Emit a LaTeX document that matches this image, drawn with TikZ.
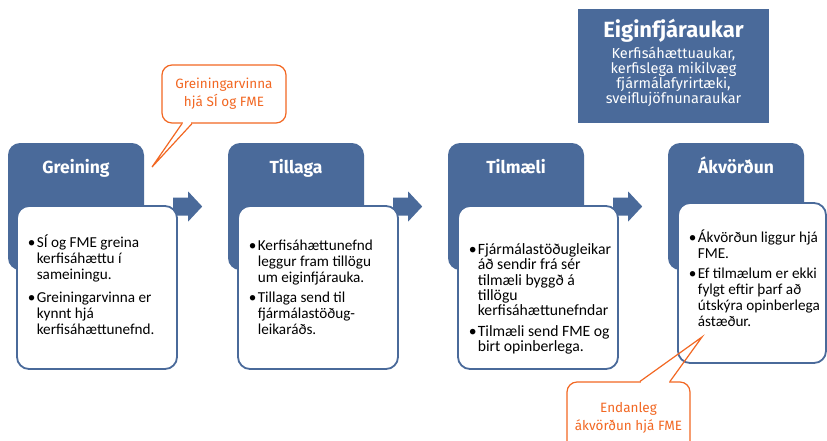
\documentclass[tikz,border=0pt]{standalone}
\usepackage{fontspec}
\setmainfont{Carlito}
\newfontfamily\headfont{Fira Sans}
\usetikzlibrary{calc}
\definecolor{stepblue}{RGB}{74,106,154}
\definecolor{noteorange}{RGB}{242,103,34}
\def\blockarrow(#1){\fill[stepblue] ($(#1.east)+(29,-9)$) -- ++(15,0) -- ++(0,-6) -- ++(14,15) -- ++(-14,15) -- ++(0,-6) -- ++(-15,0) -- cycle;}
\tikzset{
  stepbox/.style={fill=stepblue, rounded corners=12, minimum width=136, minimum height=127, inner sep=0},
  steptitle/.style={anchor=base, text=white, font=\headfont\bfseries\fontsize{17.5}{20}\selectfont},
  stepnote/.style={draw=stepblue, line width=1.8, fill=white, rounded corners=12, minimum width=160, minimum height=163, inner sep=0},
  notetext/.style={anchor=north west, inner sep=0, font=\fontsize{15.2}{16}\selectfont},
  note/.style={draw=noteorange, line width=1.2, fill=white, rounded corners=10, text=noteorange, align=center, font=\headfont\fontsize{13.5}{18}\selectfont, inner sep=0},
  noteline/.style={draw=noteorange, line width=1.2}
}

\begin{document}
\begin{tikzpicture}[x=1pt,y=-1pt]
			%%%%% START %%%%%
			\useasboundingbox (0,0) rectangle (827,440);
			\clip (0,0) rectangle (827,440);
			
			% overview box
			\node[fill=stepblue, minimum width=191, minimum height=114, inner sep=0] (aukar) at (673.5,66) {};
			\node[anchor=base, text=white, font=\headfont\bfseries\fontsize{22}{26}\selectfont] (aukartitle) at (673.5,37) {Eiginfjáraukar};
			\node[text=white, align=center, font=\headfont\fontsize{14.5}{15}\selectfont] (aukartext) at (673.5,77) {Kerfisáhættuaukar,\\kerfislega mikilvæg\\fjármálafyrirtæki,\\sveiflujöfnunaraukar};
			
			% steps
			\node[stepbox] (greining) at (76,206.5) {};
			\node[stepbox] (tillaga) at (296,206.5) {};
			\node[stepbox] (tilmaeli) at (516,206.5) {};
			\node[stepbox] (akvordun) at (736,206.5) {};
			
			\foreach \s in {greining,tillaga,tilmaeli} {\blockarrow(\s)}
			
			\node[stepnote] (greiningnote) at (97,287.5) {};
			\node[stepnote] (tillaganote) at (318,287.5) {};
			\node[stepnote] (tilmaelinote) at (538,287.5) {};
			\node[stepnote, minimum width=148, minimum height=160] (akvordunnote) at (752,283) {};
			
			\node[notetext] (greiningtext) at ($(greiningnote.north west)+(11.5,29.8)$) {\begin{tabular}{@{}p{9pt}@{}l@{}}
				\textbullet & SÍ og FME greina\\ & kerfisáhættu í\\ & sameiningu.\\[7pt]
				\textbullet & Greiningarvinna er\\ & kynnt hjá\\ & kerfisáhættunefnd.
			\end{tabular}};
			\node[notetext] (tillagatext) at ($(tillaganote.north west)+(11.5,33.8)$) {\begin{tabular}{@{}p{9pt}@{}l@{}}
				\textbullet & Kerfisáhættunefnd\\ & leggur fram tillögu\\ & um eiginfjárauka.\\[4pt]
				\textbullet & Tillaga send til\\ & fjármálastöðug-\\ & leikaráðs.
			\end{tabular}};
			\node[notetext, font=\fontsize{15.7}{15}\selectfont] (tilmaelitext) at ($(tilmaelinote.north west)+(11.5,38)$) {\begin{tabular}{@{}p{9pt}@{}l@{}}
				\textbullet & Fjármálastöðugleikar\\ & áð sendir frá sér\\ & tilmæli byggð á\\ & tillögu\\ & kerfisáhættunefndar\\[5pt]
				\textbullet & Tilmæli send FME og\\ & birt opinberlega.
			\end{tabular}};
			\node[notetext] (akvorduntext) at ($(akvordunnote.north west)+(11.5,27.8)$) {\begin{tabular}{@{}p{9pt}@{}l@{}}
				\textbullet & Ákvörðun liggur hjá\\ & FME.\\[4pt]
				\textbullet & Ef tilmælum er ekki\\ & fylgt eftir þarf að\\ & útskýra opinberlega\\ & ástæður.
			\end{tabular}};
			
			\node[steptitle] (greiningtitle) at ($(greining.north)+(0,31)$) {Greining};
			\node[steptitle] (tillagatitle) at ($(tillaga.north)+(0,31)$) {Tillaga};
			\node[steptitle] (tilmaelititle) at ($(tilmaeli.north)+(0,31)$) {Tilmæli};
			\node[steptitle] (akvorduntitle) at ($(akvordun.north)+(0,31)$) {Ákvörðun};
			
			% callouts
			\node[note, minimum width=124, minimum height=58] (greinnote) at (224,94) {Greiningarvinna\\hjá SÍ og FME};
			\coordinate (greintip) at (152,167);
			\fill[white] ($(greinnote.south)+(-41,-1.5)$) rectangle ($(greinnote.south)+(-33,1.5)$);
			\draw[noteline] ($(greinnote.south)+(-42,0)$) -- (greintip) -- ($(greinnote.south)+(-32,0)$);
			
			\node[note, minimum width=123, minimum height=71] (endnote) at (628.5,417.5) {Endanleg\\ákvörðun hjá FME};
			\coordinate (endtip) at (702,337);
			\fill[white] ($(endnote.north)+(12.5,-1.5)$) rectangle ($(endnote.north)+(40.5,1.5)$);
			\draw[noteline] ($(endnote.north)+(11.5,0)$) -- (endtip) -- ($(endnote.north)+(41.5,0)$);
			
			%%%%% END %%%%%
\end{tikzpicture}
\end{document}
